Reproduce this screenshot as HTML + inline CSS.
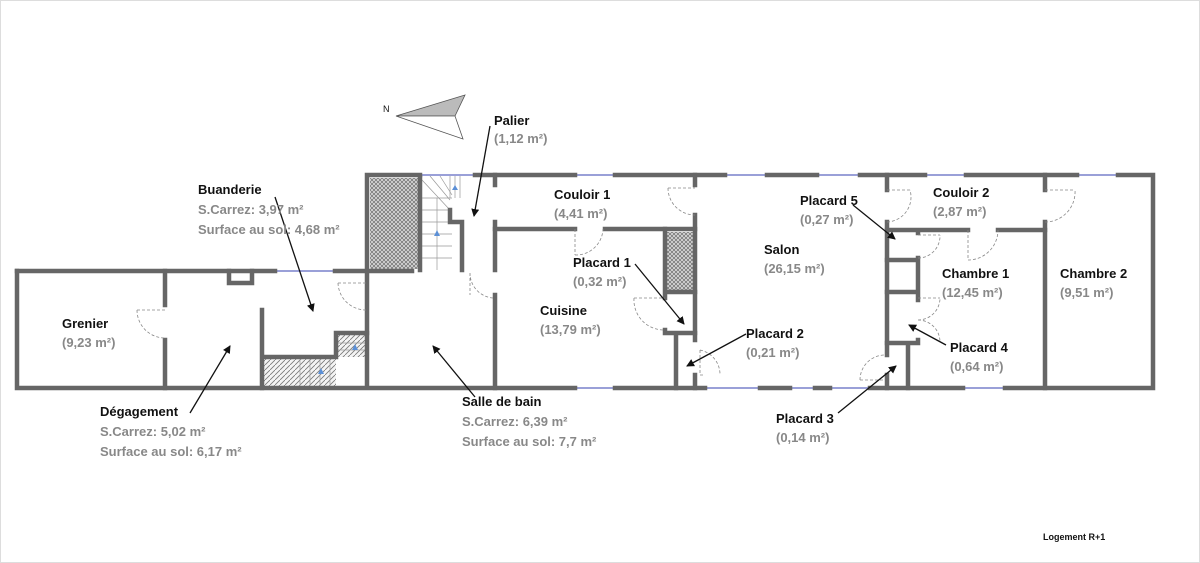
<!DOCTYPE html>
<html><head><meta charset="utf-8"><style>
html,body{margin:0;padding:0;background:#fff}
svg{display:block}
text{font-family:"Liberation Sans",sans-serif;font-weight:bold;font-size:13px}
.g{fill:#888}
.k{fill:#111}
</style></head><body>
<svg width="1200" height="563" viewBox="0 0 1200 563" xmlns="http://www.w3.org/2000/svg">
<defs>
<pattern id="cross" width="4" height="4" patternUnits="userSpaceOnUse"><rect width="4" height="4" fill="#ddd"/><path d="M0 0L4 4M4 0L0 4" stroke="#777" stroke-width="0.8"/></pattern>
<pattern id="diag" width="5" height="5" patternUnits="userSpaceOnUse"><rect width="5" height="5" fill="#f4f4f4"/><path d="M0 5L5 0" stroke="#777" stroke-width="0.8"/></pattern>
<marker id="ar" markerWidth="8" markerHeight="8" refX="7" refY="4" orient="auto" markerUnits="userSpaceOnUse"><path d="M0 0L8 4L0 8z" fill="#111"/></marker>
</defs>
<rect x="0.5" y="0.5" width="1199" height="562" fill="none" stroke="#ddd"/>
<path d="M396 116L465 95L455 116Z" fill="#bbb" stroke="#555" stroke-width="0.8"/>
<path d="M396 116L455 116L463 139Z" fill="#fff" stroke="#555" stroke-width="0.8"/>
<text x="383" y="112" style="font-size:9px;font-weight:normal" class="k">N</text>
<rect x="370" y="178" width="49" height="91" fill="url(#cross)"/>
<rect x="666" y="232" width="28" height="58" fill="url(#cross)"/>
<rect x="263" y="357" width="73" height="29" fill="url(#diag)"/>
<rect x="336" y="335" width="31" height="22" fill="url(#diag)"/>
<g stroke="#999" stroke-width="0.7" fill="none">
<path d="M422 198H452M422 210H452M422 222H452M422 234H452M422 246H452M422 258H452M437 198V270M422 180L450 210M430 176L450 200M440 176L452 195"/>
<path d="M450 176V198M455 176V198M460 176V198"/>
<path d="M300 357V386M310 357V386M320 357V386M330 357V386M336 343H366M336 350H366"/>
</g>
<path d="M434 236l3-6l3 6z M318 374l3-6l3 6z M352 350l3-6l3 6z M452 190l3-5l3 5z" fill="#5b8fd6"/>
<g stroke="#9aa0d8" stroke-width="2">
<line x1="275" y1="271" x2="335" y2="271"/><line x1="383" y1="271" x2="412" y2="271"/>
<line x1="420" y1="175" x2="475" y2="175"/>
<line x1="575" y1="175" x2="615" y2="175"/><line x1="725" y1="175" x2="767" y2="175"/><line x1="817" y1="175" x2="860" y2="175"/>
<line x1="925" y1="175" x2="966" y2="175"/><line x1="1077" y1="175" x2="1118" y2="175"/>
<line x1="575" y1="388" x2="615" y2="388"/><line x1="705" y1="388" x2="908" y2="388"/><line x1="963" y1="388" x2="1005" y2="388"/>
</g>
<g stroke="#666" stroke-width="4.5" fill="none" stroke-linecap="square">
<path d="M17 271H275M335 271H383M412 271H368"/>
<path d="M17 271V388H575M615 388H705M760 388H790M815 388H830M870 388H963M1005 388H1153V175H1118M1077 175H966M925 175H860M817 175H767M725 175H615M575 175H475M420 175H367V388"/>
<path d="M165 271V305M165 340V388"/>
<path d="M262 310V388M262 357H336V333H367"/>
<path d="M229 271V283H252V271"/>
<path d="M420 178V270M462 222V270M450 210V222H462"/>
<path d="M495 175V185M495 222V270M495 295V388"/>
<path d="M495 229H575M605 229H695"/>
<path d="M695 175V185M695 215V340M695 375V388"/>
<path d="M665 229V298M665 292H695M665 330V333H695M676 333V388"/>
<path d="M887 175V190M887 222V355M887 375V388"/>
<path d="M887 230H968M998 230H1045M918 230V233M918 258V292M887 260H918M887 292H918M918 292V300M918 340V343H887M908 343V388"/>
<path d="M1045 175V190M1045 222V388"/>
</g>
<g stroke="#888" stroke-width="0.8" fill="none" stroke-dasharray="3 2">
<path d="M137 310H165M137 310A28 28 0 0 0 165 338"/>
<path d="M338 283H367M338 283A28 28 0 0 0 366 310"/>
<path d="M470 273V295M493 298A25 25 0 0 1 470 273"/>
<path d="M668 188H695M668 188A27 27 0 0 0 695 215"/>
<path d="M575 229V255M575 255A27 27 0 0 0 603 229"/>
<path d="M634 298H665M634 298A30 30 0 0 0 664 330"/>
<path d="M700 350V375H705M700 350A25 25 0 0 1 720 375"/>
<path d="M860 380H885M860 380A25 25 0 0 1 885 355"/>
<path d="M887 190H910M887 222A25 25 0 0 0 910 190"/>
<path d="M918 235H940M918 258A22 22 0 0 0 940 235"/>
<path d="M968 230V260M968 260A30 30 0 0 0 998 230"/>
<path d="M1045 190H1075M1045 222A30 30 0 0 0 1075 190"/>
<path d="M918 298H940M918 320A22 22 0 0 0 940 298M918 320A22 22 0 0 1 940 342"/>
</g>
<g stroke="#111" stroke-width="1.3" marker-end="url(#ar)">
<line x1="490" y1="126" x2="474" y2="216"/>
<line x1="275" y1="197" x2="313" y2="311"/>
<line x1="190" y1="413" x2="230" y2="346"/>
<line x1="475" y1="397" x2="433" y2="346"/>
<line x1="635" y1="264" x2="684" y2="324"/>
<line x1="746" y1="334" x2="687" y2="366"/>
<line x1="853" y1="205" x2="895" y2="239"/>
<line x1="946" y1="345" x2="909" y2="325"/>
<line x1="838" y1="413" x2="896" y2="366"/>
</g>
<text x="494" y="125" class="k">Palier</text><text x="494" y="143" class="g">(1,12 m²)</text>
<text x="198" y="194" class="k">Buanderie</text>
<text x="198" y="214" class="g">S.Carrez: 3,97 m²</text>
<text x="198" y="234" class="g">Surface au sol: 4,68 m²</text>
<text x="62" y="328" class="k">Grenier</text><text x="62" y="347" class="g">(9,23 m²)</text>
<text x="554" y="199" class="k">Couloir 1</text><text x="554" y="218" class="g">(4,41 m²)</text>
<text x="573" y="267" class="k">Placard 1</text><text x="573" y="286" class="g">(0,32 m²)</text>
<text x="540" y="315" class="k">Cuisine</text><text x="540" y="334" class="g">(13,79 m²)</text>
<text x="764" y="254" class="k">Salon</text><text x="764" y="273" class="g">(26,15 m²)</text>
<text x="746" y="338" class="k">Placard 2</text><text x="746" y="357" class="g">(0,21 m²)</text>
<text x="800" y="205" class="k">Placard 5</text><text x="800" y="224" class="g">(0,27 m²)</text>
<text x="933" y="197" class="k">Couloir 2</text><text x="933" y="216" class="g">(2,87 m²)</text>
<text x="942" y="278" class="k">Chambre 1</text><text x="942" y="297" class="g">(12,45 m²)</text>
<text x="1060" y="278" class="k">Chambre 2</text><text x="1060" y="297" class="g">(9,51 m²)</text>
<text x="950" y="352" class="k">Placard 4</text><text x="950" y="371" class="g">(0,64 m²)</text>
<text x="100" y="416" class="k">Dégagement</text>
<text x="100" y="436" class="g">S.Carrez: 5,02 m²</text>
<text x="100" y="456" class="g">Surface au sol: 6,17 m²</text>
<text x="462" y="406" class="k">Salle de bain</text>
<text x="462" y="426" class="g">S.Carrez: 6,39 m²</text>
<text x="462" y="446" class="g">Surface au sol: 7,7 m²</text>
<text x="776" y="423" class="k">Placard 3</text><text x="776" y="442" class="g">(0,14 m²)</text>
<text x="1043" y="540" class="k" style="font-size:9px">Logement R+1</text>
</svg>
</body></html>
